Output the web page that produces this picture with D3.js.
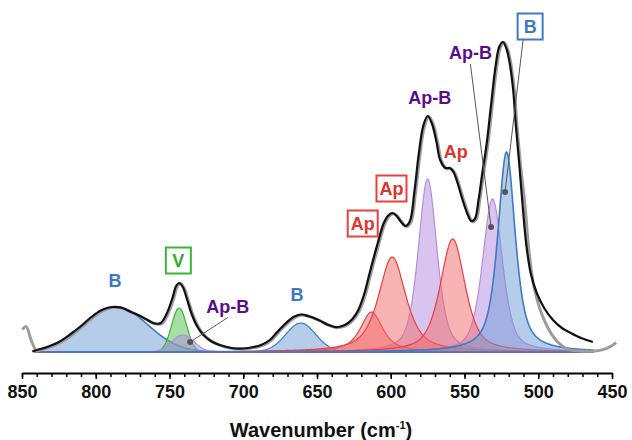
<!DOCTYPE html>
<html>
<head>
<meta charset="utf-8">
<script src="https://cdn.jsdelivr.net/npm/d3@7"></script>
<style>
  body { margin: 0; background: #fff; }
  text { font-family: "Liberation Sans", Arial, sans-serif; font-weight: bold; }
</style>
</head>
<body>
<svg id="chart" width="632" height="440"></svg>
<script>
// fitted bands (pseudo-Voigt): name, centre (cm-1), height, FWHM, lorentz fraction
const bandGroup   = ["B", "V", "Ap-B", "B", "Ap-B", "Ap-B", "Ap", "Ap", "Ap", "B"];
const bandCenter  = [786, 743.5, 741, 661, 575, 531, 613, 599, 558, 521.5];
const bandHeight  = [45, 44, 17, 29, 173, 153, 40, 95, 113, 200];
const bandFwhm    = [50, 12, 18, 24, 15, 16, 18, 22, 20, 14];
const bandLorentz = [0, 0, 0, 0.1, 0.5, 0.5, 0.8, 0.7, 0.6, 0.7];

// fitted envelope (black)
const envelopeWn  = [843, 840, 833, 825, 817, 810, 803, 796, 789, 783, 776, 770, 765, 760, 756, 752, 748, 745.5, 743.5, 741, 738, 735, 731, 727, 722, 716, 708, 700, 693, 688, 682, 677, 671, 666, 661, 656, 649, 643, 638, 634, 630, 626, 622, 618, 615, 612, 609, 605, 602, 599, 596, 593.5, 590, 587, 584, 581, 578, 575, 572, 569, 566.5, 563, 560, 557.5, 554.5, 551.5, 548, 545.5, 543, 540.5, 538, 535, 532, 529, 526.5, 524, 521.5, 519.5, 517, 515.5, 513, 510.5, 508, 505, 501, 496, 490, 484, 478, 471, 463];
const envelopeInt = [0.5, 2, 5, 10, 18, 26, 35, 42, 45, 44.5, 40, 36, 32, 28.5, 29, 38, 54, 66, 69, 65, 52, 38, 25, 17, 11, 7, 4, 3.5, 5, 7, 12, 20, 29, 35, 37.5, 36, 32, 27.5, 25, 25.5, 28, 33, 42, 58, 75, 92, 108, 128, 136, 139, 136, 131, 126, 131, 160, 198, 226, 236, 228, 210, 192, 184, 184, 180, 168, 153, 138, 131, 133, 152, 178, 208, 247, 285, 305, 310, 303, 290, 262, 232, 190, 145, 106, 78, 59, 44, 32, 24, 19, 14, 10];

// measured spectrum (grey): ends that differ from the fit
const measuredLeftWn   = [850.5, 848, 844.5, 841];
const measuredLeftInt  = [23, 26, 12, 1.5];
const measuredRightWn  = [510, 507, 504, 500, 496, 492, 488, 484, 480, 472, 463, 457, 452, 448];
const measuredRightInt = [150, 100, 68, 45, 30, 19, 11, 6, 3, 1.5, 1.5, 3, 6, 10];

// x axis ticks
const majorTicks = [850, 800, 750, 700, 650, 600, 550, 500, 450];
const minorTicks = d3.range(450, 851, 10);

// annotations: text, group, label position (wn, int), boxed, pointer target (wn, int) or null
const labelText  = ["B", "V", "Ap-B", "B", "Ap", "Ap", "Ap-B", "Ap", "Ap-B", "B"];
const labelGroup = ["B", "V", "Ap-B", "B", "Ap", "Ap", "Ap-B", "Ap", "Ap-B", "B"];
const labelWn    = [787, 744, 710.5, 663.5, 619, 599.5, 573.5, 556, 546, 505.5];
const labelInt   = [71, 91.5, 45.5, 57, 128.5, 163.5, 254.5, 200.5, 299, 325.5];
const labelBoxed = [false, true, false, false, true, true, false, false, false, true];
const pointerWn  = [null, null, 736, null, null, null, null, null, 532, 522.5];
const pointerInt = [null, null, 10, null, null, null, null, null, 125, 160];

const colors = {
  "B":    { fill: "#6d9bd3", stroke: "#3c7bc6", text: "#3d78c3" },
  "V":    { fill: "#4cc045", stroke: "#3ab534", text: "#38a834" },
  "Ap-B": { fill: "#b189dd", stroke: "#b48ede", text: "#5a0c8c" },
  "Ap":   { fill: "#f16969", stroke: "#e8413e", text: "#e0342f" }
};

const svg = d3.select("#chart");
const x = d3.scaleLinear().domain([850, 450]).range([22, 612]);
const y = d3.scaleLinear().domain([0, 320]).range([352, 32]);

function band(i, w) {
  const d = (w - bandCenter[i]) / (bandFwhm[i] / 2);
  const g = Math.exp(-Math.LN2 * d * d);
  const l = 1 / (1 + d * d);
  const eta = bandLorentz[i];
  return bandHeight[i] * (eta * l + (1 - eta) * g);
}

const grid = d3.range(463, 841.01, 0.5);

// components
const area = d3.area()
  .x(d => x(d[0]))
  .y0(y(0))
  .y1(d => y(d[1]));

const bands = svg.append("g");
bandCenter.forEach((c, i) => {
  const col = colors[bandGroup[i]];
  bands.append("path")
    .attr("d", area(grid.map(w => [w, band(i, w)])))
    .attr("fill", col.fill)
    .attr("fill-opacity", 0.5)
    .attr("stroke", col.stroke)
    .attr("stroke-width", i == 9 || i == 0 ? 1.6 : 1.2);
});

// measured + fit
const line = d3.line()
  .x(d => x(d[0]))
  .y(d => y(d[1]))
  .curve(d3.curveCatmullRom.alpha(0.5));

const envelope = envelopeWn.map((w, i) => [w, envelopeInt[i]]);
const measured = measuredLeftWn.map((w, i) => [w, measuredLeftInt[i]])
  .concat(envelope.filter(d => d[0] < 841 && d[0] > 512))
  .concat(measuredRightWn.map((w, i) => [w, measuredRightInt[i]]));

svg.append("path")
  .attr("d", line(measured))
  .attr("fill", "none")
  .attr("stroke", "#9c9c9c")
  .attr("stroke-width", 3)
  .attr("transform", "translate(1.2,0.6)");

svg.append("path")
  .attr("d", line(envelope))
  .attr("fill", "none")
  .attr("stroke", "#111")
  .attr("stroke-width", 2.2);

// axis
const axisY = 373;
svg.append("g")
  .attr("transform", "translate(0," + axisY + ")")
  .call(d3.axisBottom(x).tickValues(minorTicks).tickSize(4).tickFormat(""))
  .call(g => g.select(".domain").remove())
  .selectAll("line").attr("stroke-width", 1.5);

const xAxis = svg.append("g")
  .attr("transform", "translate(0," + axisY + ")")
  .call(d3.axisBottom(x).tickValues(majorTicks).tickSize(6).tickSizeOuter(0).tickPadding(6).tickFormat(d3.format("d")));
xAxis.select(".domain").attr("stroke-width", 2);
xAxis.selectAll("line").attr("stroke-width", 1.5);
xAxis.selectAll("text")
  .attr("fill", "#111")
  .style("font-size", "18px");

const title = svg.append("text")
  .attr("x", 321)
  .attr("y", 437)
  .attr("text-anchor", "middle")
  .attr("fill", "#111")
  .style("font-size", "20px");
title.append("tspan").text("Wavenumber (cm");
title.append("tspan").text("-1").attr("dy", -8).style("font-size", "11px");
title.append("tspan").text(")").attr("dy", 8);

// annotations
const notes = svg.append("g");
labelText.forEach((t, i) => {
  const col = colors[labelGroup[i]];
  const lx = x(labelWn[i]), ly = y(labelInt[i]);
  if (pointerWn[i] != null) {
    const px = x(pointerWn[i]), py = y(pointerInt[i]);
    const sx = labelBoxed[i] ? lx - 7 : lx;
    const sy = ly + (labelBoxed[i] ? 13 : 11);
    notes.append("line")
      .attr("x1", sx).attr("y1", sy)
      .attr("x2", px).attr("y2", py)
      .attr("stroke", "#555").attr("stroke-width", 1);
    notes.append("circle")
      .attr("cx", px).attr("cy", py).attr("r", 3)
      .attr("fill", "#555");
  }
  const txt = notes.append("text")
    .attr("x", lx)
    .attr("y", ly)
    .attr("text-anchor", "middle")
    .attr("dominant-baseline", "central")
    .attr("fill", col.text)
    .style("font-size", "18px")
    .text(t);
  if (labelBoxed[i]) {
    const bb = txt.node().getBBox();
    const w = Math.max(bb.width + 6, 25);
    const h = 26;
    notes.insert("rect", "text")
      .attr("x", lx - w / 2).attr("y", ly - h / 2)
      .attr("width", w).attr("height", h)
      .attr("fill", "#fff")
      .attr("stroke", col.stroke)
      .attr("stroke-width", 2);
  }
});
</script>
</body>
</html>
